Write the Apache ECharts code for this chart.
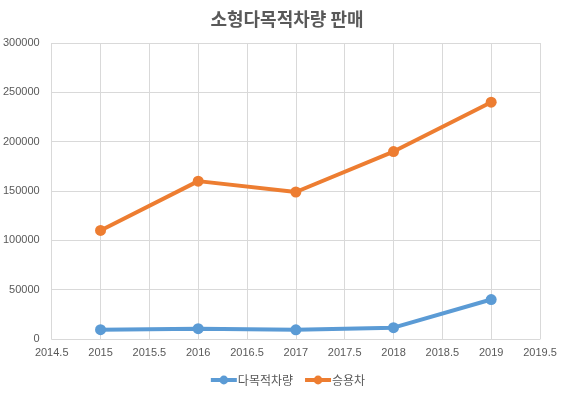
<!DOCTYPE html>
<html><head><meta charset="utf-8">
<script src="https://cdn.jsdelivr.net/npm/echarts@6/dist/echarts.min.js"></script>
<style>html,body{margin:0;padding:0;background:#fff}#c{width:574px;height:394px}</style>
</head><body><div id="c"></div>
<script>
const years = [2015, 2016, 2017, 2018, 2019];
const seriesNames = ['다목적차량', '승용차'];
const multiPurpose = [9500, 10500, 9300, 11500, 40000];
const passenger = [110000, 160000, 149000, 190000, 240000];
const titleText = '소형다목적차량 판매';

const font = "'Noto Sans CJK KR', 'Liberation Sans', sans-serif";
const chart = echarts.init(document.getElementById('c'));
chart.setOption({
  animation: false,
  backgroundColor: '#fff',
  title: { text: titleText, left: 'center', top: 5,
    textStyle: { fontFamily: font, fontSize: 18, fontWeight: 'bold', color: '#595959' } },
  legend: { bottom: 3, left: 'center', itemWidth: 26, itemHeight: 11, itemGap: 10,
    lineStyle: { width: 4 },
    textStyle: { fontFamily: font, fontSize: 12, color: '#595959', padding: [0, 0, 0, -4] },
    data: seriesNames },
  grid: { left: 51, right: 34, top: 43, bottom: 55, containLabel: false },
  xAxis: { type: 'value', min: 2014.5, max: 2019.5, interval: 0.5,
    axisLine: { show: true, lineStyle: { color: '#d9d9d9' } },
    axisTick: { show: false },
    splitLine: { show: true, lineStyle: { color: '#d9d9d9' } },
    axisLabel: { fontFamily: "'Liberation Sans', sans-serif", fontSize: 11, color: '#595959', margin: 8,
      formatter: v => String(v) } },
  yAxis: { type: 'value', min: 0, max: 300000, interval: 50000,
    axisLine: { show: false }, axisTick: { show: false },
    splitLine: { show: true, lineStyle: { color: '#d9d9d9' } },
    axisLabel: { fontFamily: "'Liberation Sans', sans-serif", fontSize: 11, color: '#595959', margin: 12,
      formatter: v => String(v) } },
  series: [
    { name: seriesNames[0], type: 'line', data: years.map((y, i) => [y, multiPurpose[i]]),
      symbol: 'circle', symbolSize: 11, lineStyle: { width: 4, color: '#5b9bd5' },
      itemStyle: { color: '#5b9bd5' } },
    { name: seriesNames[1], type: 'line', data: years.map((y, i) => [y, passenger[i]]),
      symbol: 'circle', symbolSize: 11, lineStyle: { width: 4, color: '#ed7d31' },
      itemStyle: { color: '#ed7d31' } }
  ]
});
</script></body></html>
